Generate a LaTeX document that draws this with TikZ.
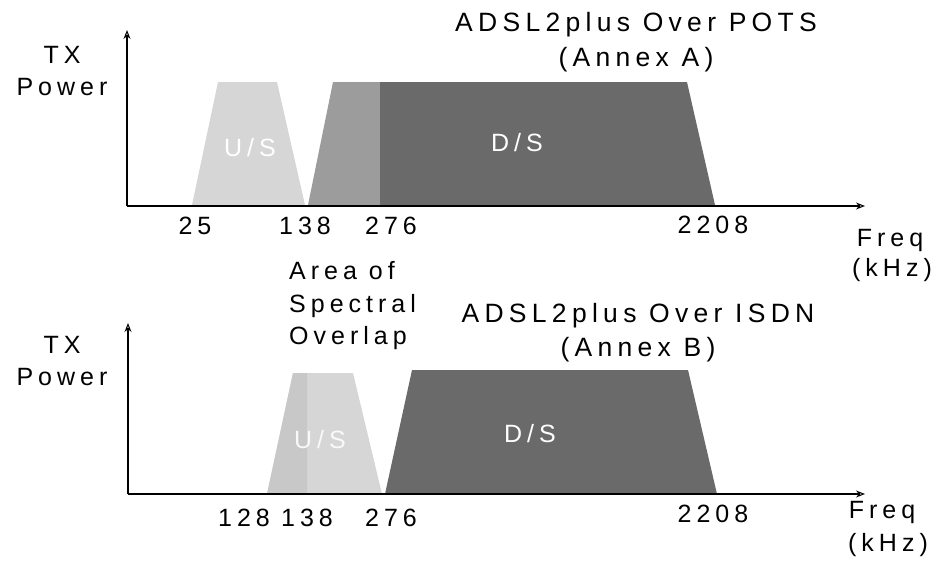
\documentclass[tikz,border=0pt]{standalone}
\usepackage{fontspec}
\setmainfont{Liberation Sans}[LetterSpace=20]
\usetikzlibrary{arrows.meta}
\definecolor{uslight}{HTML}{D6D6D6}
\definecolor{usdense}{HTML}{C8C8C8}
\definecolor{ovmid}{HTML}{9C9C9C}
\definecolor{dsdark}{HTML}{6A6A6A}
\begin{document}
\begin{tikzpicture}[x=1pt,y=-1pt,
  lbl/.style={font=\fontsize{25}{32.5}\selectfont, inner sep=0pt, text=black},
  titlelbl/.style={lbl, font=\fontsize{26.5}{32.5}\selectfont},
  bandlbl/.style={lbl, text=white},
  axisline/.style={line width=2pt, -{Stealth[open,length=9pt,width=7pt,line width=1pt]}},
  usband/.style={fill=uslight, draw=none},
  usdenseband/.style={fill=usdense, draw=none},
  ovband/.style={fill=ovmid, draw=none},
  dsband/.style={fill=dsdark, draw=none}]
\useasboundingbox (0,0) rectangle (940,560);

% ---------- top panel (Annex A) ----------
\fill[usband] (192,205) -- (218,82) -- (277,82) -- (305,205) -- cycle;
\fill[ovband] (308,205) -- (333,82) -- (380,82) -- (380,205) -- cycle;
\fill[dsband] (380,205) -- (380,82) -- (687,82) -- (715,205) -- cycle;

\coordinate (oA) at (127,206);
\coordinate (yA) at (127,30);
\coordinate (xA) at (865,206);
\draw[axisline] (oA) -- (yA);
\draw[axisline] (oA) -- (xA);

\node[lbl, align=center] (txA) at (62,71) {TX\\Power};
\node[titlelbl] (titleA1) at (636,25) {ADSL2plus Over POTS};
\node[titlelbl] (titleA2) at (636,60) {(Annex A)};
\node[bandlbl] (usA) at (250,148) {U/S};
\node[bandlbl] (dsA) at (517,143) {D/S};
\node[lbl] (tA25) at (195,226) {25};
\node[lbl] (tA138) at (305,226) {138};
\node[lbl] (tA276) at (391,226) {276};
\node[lbl] (tA2208) at (713,225) {2208};
\node[lbl] (fA1) at (890,240) {Freq};
\node[lbl] (fA2) at (892,270) {(kHz)};

% ---------- overlap note ----------
\node[lbl, align=left, anchor=west] (area) at (289,306) {Area of\\Spectral\\Overlap};

% ---------- bottom panel (Annex B) ----------
\fill[usband] (267,494) -- (293,373) -- (353,373) -- (382,494) -- cycle;
\fill[usdenseband] (267,494) -- (293,373) -- (307,373) -- (307,494) -- cycle;
\fill[dsband] (385,494) -- (412,370) -- (688,370) -- (717,494) -- cycle;

\coordinate (oB) at (128,494);
\coordinate (yB) at (128,323);
\coordinate (xB) at (865,494);
\draw[axisline] (oB) -- (yB);
\draw[axisline] (oB) -- (xB);

\node[lbl, align=center] (txB) at (62,361) {TX\\Power};
\node[titlelbl] (titleB1) at (638,316) {ADSL2plus Over ISDN};
\node[titlelbl] (titleB2) at (638,350) {(Annex B)};
\node[bandlbl, text=white!85!uslight] (usB) at (320,440) {U/S};
\node[bandlbl] (dsB) at (530,434) {D/S};
\node[lbl] (tB128) at (244,518) {128};
\node[lbl] (tB138) at (307,518) {138};
\node[lbl] (tB276) at (391,518) {276};
\node[lbl] (tB2208) at (713,514) {2208};
\node[lbl] (fB1) at (882,512) {Freq};
\node[lbl] (fB2) at (888,545) {(kHz)};
\end{tikzpicture}
\end{document}
